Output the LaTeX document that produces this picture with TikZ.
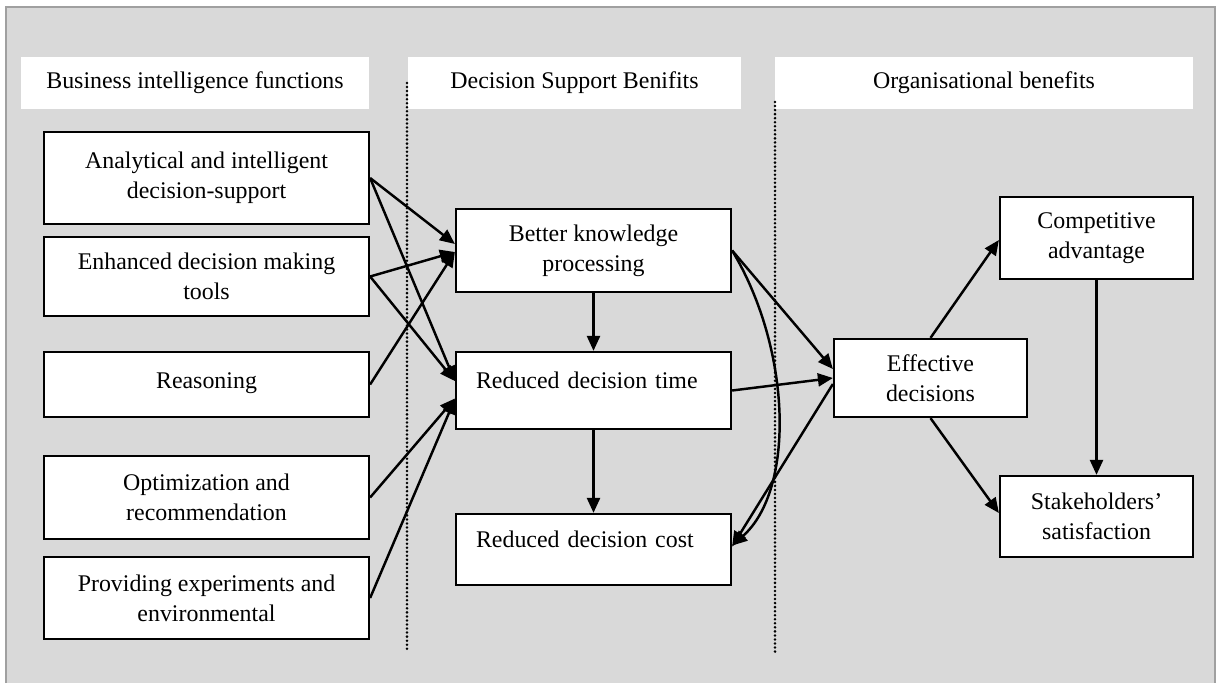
\documentclass[tikz,border=0pt]{standalone}
\usepackage{fontspec}
\setmainfont{Liberation Serif}
\usetikzlibrary{arrows.meta,calc}
\definecolor{panelgray}{HTML}{D9D9D9}
\definecolor{framegray}{HTML}{A0A0A0}
\begin{document}
\begin{tikzpicture}[x=0.02cm,y=-0.02cm,
  every node/.style={font=\fontsize{13.6}{17}\selectfont, align=center, text=black},
  header/.style={fill=white, inner sep=0pt, minimum height=1.04cm},
  fbox/.style={draw, fill=white, line width=1.3pt, inner sep=0pt},
  leftbox/.style={fbox, text width=4.7cm, inner xsep=0.4cm, align=left},
  link/.style={line width=1.4pt, -{Triangle[length=0.3cm,width=0.26cm]}},
  divider/.style={line width=1.6pt, dash pattern=on 0pt off 2.3pt, line cap=round}
]
\useasboundingbox (0,0) rectangle (1219,683);
\fill[white] (0,0) rectangle (1219,683);
\fill[panelgray] (6,7) rectangle (1215,683);
\draw[framegray, line width=1.3pt] (6,683) -- (6,7) -- (1215,7) -- (1215,683);

% column headings
\node[header, minimum width=6.96cm] (h1) at (195,83) {Business intelligence functions};
\node[header, minimum width=6.66cm] (h2) at (574.5,83) {Decision Support Benifits};
\node[header, minimum width=8.36cm] (h3) at (984,83) {Organisational benefits};

% column separators
\draw[divider] (407,83) -- (407,652);
\draw[divider] (775,102) -- (775,652);

% business intelligence functions
\node[fbox, minimum width=6.5cm, minimum height=1.84cm] (l1) at (206.5,178) {Analytical and intelligent\\decision-support};
\node[fbox, minimum width=6.5cm, minimum height=1.58cm] (l2) at (206.5,276.5) {Enhanced decision making\\tools};
\node[fbox, minimum width=6.5cm, minimum height=1.3cm] (l3) at (206.5,384.5) {\raisebox{0.14cm}{Reasoning}};
\node[fbox, minimum width=6.5cm, minimum height=1.66cm] (l4) at (206.5,497.5) {Optimization and\\recommendation};
\node[fbox, minimum width=6.5cm, minimum height=1.64cm] (l5) at (206.5,598) {Providing experiments and\\environmental};

% decision support benefits
\node[fbox, minimum width=5.5cm, minimum height=1.66cm] (m1) at (593.5,250.5) {Better knowledge\\processing};
\node[leftbox, minimum height=1.54cm] (m2) at (593.5,390.5) {\raisebox{0.4cm}{Reduced decision time}};
\node[leftbox, minimum height=1.42cm] (m3) at (593.5,549.5) {\raisebox{0.4cm}{Reduced decision cost}};

% organisational benefits
\node[fbox, minimum width=3.86cm, minimum height=1.56cm] (ed) at (930.5,378) {Effective\\decisions};
\node[fbox, minimum width=3.86cm, minimum height=1.64cm] (ca) at (1096.5,238) {Competitive\\advantage};
\node[fbox, minimum width=3.86cm, minimum height=1.62cm] (ss) at (1096.5,516.5) {Stakeholders’\\satisfaction};

% functions to decision support
\draw[link] (l1.east) -- ($(m1.west)+(0,-6.5)$);
\draw[link] (l1.east) -- ($(m2.west)+(0,-9.5)$);
\draw[link] (l2.east) -- ($(m1.west)+(0,1.5)$);
\draw[link] (l2.east) -- ($(m2.west)+(0,-9.5)$);
\draw[link] (l3.east) -- ($(m1.west)+(0,1.5)$);
\draw[link] (l4.east) -- ($(m2.west)+(0,8)$);
\draw[link] (l5.east) -- ($(m2.west)+(0,8.5)$);

% within decision support
\draw[link] (m1.south) -- (m2.north);
\draw[link] (m2.south) -- (m3.north);

% decision support to organisational benefits
\draw[link] (m1.east) -- ($(ed.west)+(0,-9)$);
\draw[link] (m2.east) -- (ed.west);
\draw[link] ($(ed.west)+(0,6)$) -- ($(m3.east)+(0,-3)$);
\draw[link] (m1.east) .. controls (792,350) and (795,490) .. ($(m3.east)+(0,-4)$);

% organisational benefits
\draw[link] (ed.north) -- ($(ca.west)+(0,2)$);
\draw[link] (ed.south) -- ($(ss.west)+(0,-3.5)$);
\draw[link] (ca.south) -- (ss.north);
\end{tikzpicture}
\end{document}
